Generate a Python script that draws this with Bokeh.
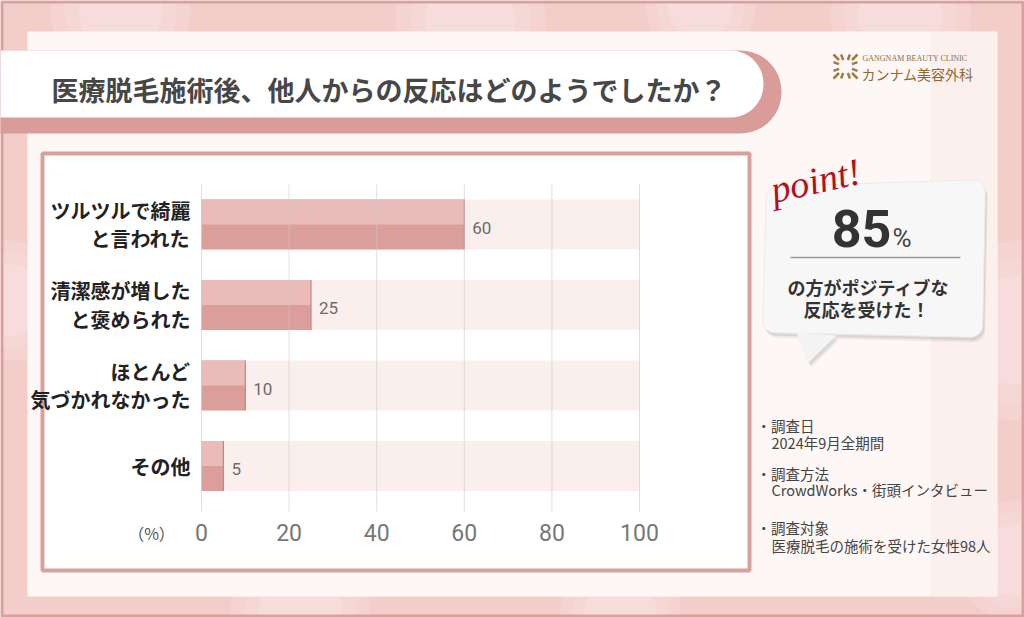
import numpy as np
from bokeh.plotting import figure
from bokeh.models import Range1d, LinearAxis, FixedTicker
from bokeh.core.properties import value
from bokeh.embed import file_html
from bokeh.resources import INLINE

# ---------------- data ----------------
title_text = "医療脱毛施術後、他人からの反応はどのようでしたか？"
categories = ["ツルツルで綺麗\nと言われた", "清潔感が増した\nと褒められた",
              "ほとんど\n気づかれなかった", "その他"]
values = [60, 25, 10, 5]
x_ticks = [0, 20, 40, 60, 80, 100]
unit_label = "（%）"
point_value = "85"
point_unit = "%"
point_lines = ["の方がポジティブな", "反応を受けた！"]
note_heads = ["・調査日", "・調査方法", "・調査対象"]
note_bodies = ["2024年9月全期間", "CrowdWorks・街頭インタビュー", "医療脱毛の施術を受けた女性98人"]
logo_en = "GANGNAM BEAUTY CLINIC"
logo_jp = "カンナム美容外科"

JP = value("Noto Sans CJK JP")
W, H = 1024, 617
X0_PX, X100_PX = 201, 639
ppu = (X100_PX - X0_PX) / 100.0
CAT0_PX, CAT_STEP = 224, 80.5

p = figure(width=W, height=H, min_border=0, x_axis_type=None, y_axis_type=None,
           toolbar_location=None, tools="", output_backend="svg",
           x_range=Range1d(-X0_PX / ppu, (W - X0_PX) / ppu),
           y_range=Range1d(H, 0),
           outline_line_color=None,
           background_fill_color="#f3cdca", border_fill_color="#f3cdca")
p.extra_x_ranges = {"px": Range1d(0, W)}
p.extra_y_ranges = {"cat": Range1d((H - CAT0_PX) / CAT_STEP, -CAT0_PX / CAT_STEP)}


def rrect(x0, y0, x1, y1, r, n=12):
    xs, ys = [], []
    for cx, cy, a0, a1 in [(x1 - r, y0 + r, -90, 0), (x1 - r, y1 - r, 0, 90),
                           (x0 + r, y1 - r, 90, 180), (x0 + r, y0 + r, 180, 270)]:
        t = np.radians(np.linspace(a0, a1, n))
        xs += list(cx + r * np.cos(t))
        ys += list(cy + r * np.sin(t))
    return xs, ys


PX = dict(x_range_name="px")

# ---------------- background ----------------
bx0 = [120, 470, 700, 900, 1015, 10, 1015, 300, 620]
by0 = [10, 20, 5, 15, 330, 300, 560, 612, 612]
br0 = [70, 75, 55, 70, 90, 60, 60, 70, 60]
for k, a in [(1.0, 0.12), (0.8, 0.12), (0.6, 0.12)]:
    p.circle(x=bx0, y=by0, radius=[r * k for r in br0],
             fill_color="white", fill_alpha=a, line_color=None, **PX)
p.quad(left=[1.5], right=[W - 1.5], top=[1.5], bottom=[H - 1.5],
       fill_color=None, line_color="#d9a19e", line_width=3, **PX)
# card
p.quad(left=[27], right=[997], top=[31], bottom=[596],
       fill_color="#fdf7f6", line_color=None, **PX)
p.quad(left=[930], right=[997], top=[31], bottom=[596],
       fill_color="#fbe6e4", fill_alpha=0.45, line_color=None, **PX)

# title pill
xs, ys = rrect(-80, 50, 781, 133, 41)
p.patch(xs, ys, fill_color="#d99c99", line_color=None, **PX)
xs, ys = rrect(-80, 50, 763, 117, 33)
p.patch(xs, ys, fill_color="#ffffff", line_color=None, **PX)
p.text(x=[51], y=[89], text=[title_text], text_font=JP, text_font_size="27px",
       text_font_style="bold", text_color="#474747", text_baseline="middle",
       text_align="left", **PX)

# logo
cx, cy = 845, 66
ang = np.radians([20, 45, 70, 110, 135, 160, 200, 225, 250, 290, 315, 340])
rin = 6.5 / np.maximum(np.abs(np.cos(ang)), np.abs(np.sin(ang)))
rout = 12 / np.maximum(np.abs(np.cos(ang)), np.abs(np.sin(ang)))
p.segment(x0=cx + rin * np.cos(ang), y0=cy + rin * np.sin(ang),
          x1=cx + rout * np.cos(ang), y1=cy + rout * np.sin(ang),
          line_color="#9d7c45", line_width=2.5, **PX)
p.text(x=[862], y=[58], text=[logo_en], text_font=value("Liberation Serif"),
       text_font_size="8px", text_color="#8c6d3c", text_baseline="middle", **PX)
p.text(x=[861], y=[73], text=[logo_jp], text_font=JP, text_font_size="14px",
       text_color="#8c6a34", text_baseline="middle", **PX)

# chart panel
p.quad(left=[42], right=[749], top=[153], bottom=[570],
       fill_color="#ffffff", line_color="#d9a19d", line_width=4, **PX)

# ---------------- chart ----------------
idx = list(range(len(categories)))
bh = 50 / CAT_STEP
CAT = dict(y_range_name="cat")
p.hbar(y=idx, left=0, right=x_ticks[-1], height=bh, fill_color="#fbefee",
       line_color=None, **CAT)
p.hbar(y=idx, left=0, right=values, height=bh, fill_color="#dc9e9a",
       line_color=None, **CAT)
p.hbar(y=[i - bh / 4 for i in idx], left=0, right=values, height=bh / 2,
       fill_color="#e9bcba", line_color=None, **CAT)
p.segment(x0=values, x1=values, y0=[i - bh / 2 for i in idx],
          y1=[i + bh / 2 for i in idx], line_color="#c8847f", line_width=1.2, **CAT)
# grid
p.segment(x0=x_ticks, x1=x_ticks, y0=[184] * len(x_ticks), y1=[511] * len(x_ticks),
          line_color="#c9c9c9", line_alpha=0.6, line_width=1)
# value labels
p.text(x=values, y=idx, text=[str(v) for v in values], x_offset=8, y_offset=3,
       text_font=value("Roboto"), text_font_size="17px", text_color="#6b6b6b",
       text_baseline="middle", text_align="left", **CAT)

xaxis = LinearAxis(ticker=FixedTicker(ticks=x_ticks), fixed_location=510,
                   axis_line_color=None, major_tick_line_color=None,
                   minor_tick_line_color=None, major_label_text_font_size="23px",
                   major_label_text_color="#777777", major_label_text_font="Roboto",
                   major_label_standoff=7)
p.add_layout(xaxis, "below")

yaxis = LinearAxis(y_range_name="cat", fixed_location=0,
                   ticker=FixedTicker(ticks=idx),
                   major_label_overrides={i: c for i, c in enumerate(categories)},
                   axis_line_color=None, major_tick_line_color=None,
                   minor_tick_line_color=None,
                   major_label_text_font="Noto Sans CJK JP",
                   major_label_text_font_style="bold",
                   major_label_text_font_size="20px",
                   major_label_text_color="#222222",
                   major_label_text_line_height=0.98,
                   major_label_standoff=5)
p.add_layout(yaxis, "left")

p.text(x=[151], y=[532], text=[unit_label], text_font=JP, text_font_size="16px",
       text_color="#555555", text_align="center", text_baseline="middle", **PX)

# ---------------- point bubble ----------------
TL, TR, BR, BL = (766, 186), (985, 179), (982, 337), (762, 332)
lx, ly = rrect(0, 0, 220, 152, 12)
u = np.array(lx) / 220.0
v = np.array(ly) / 152.0


def bil(k):
    return ((1 - u) * (1 - v) * TL[k] + u * (1 - v) * TR[k]
            + u * v * BR[k] + (1 - u) * v * BL[k])


bx, by = bil(0), bil(1)
tail_x = [796, 836, 808]
tail_y = [332, 335, 362]
for off, a in [(5, 0.06), (3, 0.08)]:
    p.patch(list(bx + off * 0.5), list(by + off), fill_color="#000000", fill_alpha=a,
            line_color=None, **PX)
    p.patch([t + off * 0.5 for t in tail_x], [t + off for t in tail_y],
            fill_color="#000000", fill_alpha=a, line_color=None, **PX)
p.patch(list(bx), list(by), fill_color="#f7f7f7", line_color="#ebebeb", **PX)
p.patch(tail_x, tail_y, fill_color="#f4f4f4", line_color=None, **PX)

p.text(x=[815], y=[180], text=["point!"], angle=0.22,
       text_font=value("Liberation Serif"), text_font_style="italic",
       text_font_size="38px", text_color="#b0141b", text_align="center",
       text_baseline="middle", **PX)

p.text(x=[861], y=[228], text=[point_value], text_font=value("Roboto"),
       text_font_style="bold", text_font_size="52px", text_color="#333333",
       text_align="center", text_baseline="middle", **PX)
p.text(x=[892], y=[237], text=[point_unit], text_font=value("Roboto"),
       text_font_size="26px", text_color="#444444", text_align="left",
       text_baseline="middle", **PX)
p.segment(x0=[790], x1=[960], y0=[257], y1=[257], line_color="#9a9a9a",
          line_width=1.5, **PX)
p.text(x=[868, 866], y=[286, 308], text=point_lines, text_font=JP,
       text_font_style="bold", text_font_size="18px", text_color="#333333",
       text_align="center", text_baseline="middle", **PX)

# ---------------- notes ----------------
p.text(x=[756] * 3, y=[425, 473, 527], text=note_heads, text_font=JP,
       text_font_size="14.5px", text_color="#444444", text_baseline="middle", **PX)
p.text(x=[771] * 3, y=[442, 489, 545], text=note_bodies, text_font=JP,
       text_font_size="14.5px", text_color="#444444", text_baseline="middle", **PX)

open("out.html", "w").write(file_html(p, INLINE))
